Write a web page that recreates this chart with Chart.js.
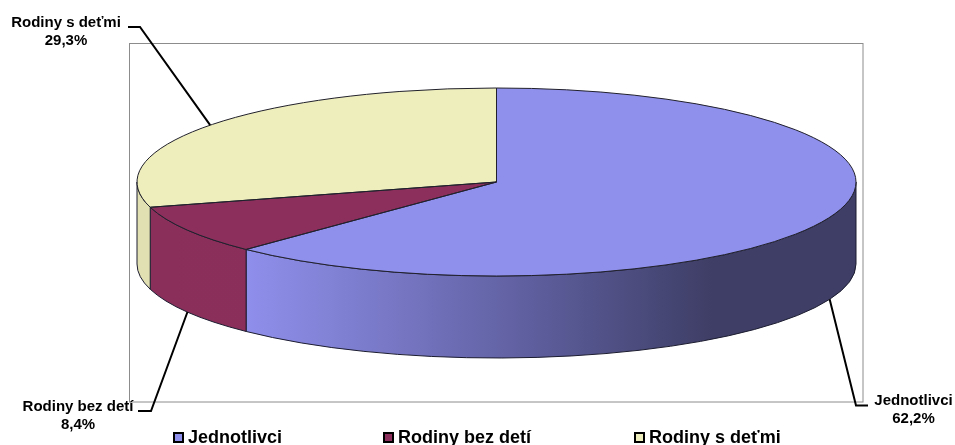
<!DOCTYPE html>
<html>
<head>
<meta charset="utf-8">
<style>
  html, body { margin: 0; padding: 0; background: #fff; overflow: hidden; }
  #wrap { position: relative; width: 955px; height: 445px; }
</style>
<script src="https://cdn.jsdelivr.net/npm/chart.js@4"></script>
</head>
<body>
<div id="wrap"><canvas id="pie"></canvas></div>
<script>
var CATEGORIES = ['Jednotlivci', 'Rodiny bez detí', 'Rodiny s deťmi'];
var SHARES = [62.2, 8.4, 29.3];
var SHARE_LABELS = ['62,2%', '8,4%', '29,3%'];
var COLORS = ['#8f8fec', '#8d2f5c', '#eeeebd'];

// flattened pie geometry
var RX = 359.5, RY = 94, DEPTH = 82;
var FONT = 'bold 15px "Liberation Sans", Arial, sans-serif';
var LEGEND_FONT = 'bold 18px "Liberation Sans", Arial, sans-serif';

// bend + end of every leader line, and where its caption sits
var LEADERS = [
  { knee: [856, 405.5], end: [868, 405.5], text: [913.5, 401] },
  { knee: [151, 411], end: [138, 411], text: [78, 406.5] },
  { knee: [140, 27], end: [128, 27], text: [66, 23] }
];
var LEGEND_X = [173, 383, 634], LEGEND_Y = 438;

function wallFill(ctx, i) {
  var g = ctx.createLinearGradient(137, 0, 856, 0);
  if (i === 0) {
    g.addColorStop(0.15, '#8f8fec');
    g.addColorStop(0.3, '#7e7ed0');
    g.addColorStop(0.55, '#5e5e9e');
    g.addColorStop(0.8, '#3e3e66');
    g.addColorStop(1, '#3e3e66');
  } else if (i === 1) {
    g.addColorStop(0, '#8a2e5a');
    g.addColorStop(1, '#8d2f5c');
  } else {
    g.addColorStop(0, '#e0e0b2');
    g.addColorStop(1, '#e0e0b2');
  }
  return g;
}

var flatPie = {
  id: 'flatPie',
  beforeDatasetsDraw: function(chart) {
    var ctx = chart.ctx;
    var arcs = chart.getDatasetMeta(0).data;
    ctx.save();
    ctx.lineWidth = 1;
    ctx.strokeStyle = '#1c1c30';
    // front wall first, top face goes over it
    arcs.forEach(function(a, i) {
      var from = Math.max(a.startAngle, 0), to = Math.min(a.endAngle, Math.PI);
      if (to <= from) return;
      ctx.beginPath();
      ctx.ellipse(a.x, a.y, RX, RY, 0, from, to);
      ctx.ellipse(a.x, a.y + DEPTH, RX, RY, 0, to, from, true);
      ctx.closePath();
      ctx.fillStyle = wallFill(ctx, i);
      ctx.fill();
      ctx.stroke();
    });
    ctx.restore();
    var c = arcs[0];
    ctx.save();
    ctx.translate(c.x, c.y);
    ctx.scale(RX / c.outerRadius, RY / c.outerRadius);
    ctx.translate(-c.x, -c.y);
  },
  afterDatasetsDraw: function(chart) {
    var ctx = chart.ctx;
    ctx.restore();
    var arcs = chart.getDatasetMeta(0).data;
    ctx.save();
    ctx.lineWidth = 1;
    ctx.strokeStyle = '#20202c';
    arcs.forEach(function(a) {
      ctx.beginPath();
      ctx.moveTo(a.x, a.y);
      ctx.ellipse(a.x, a.y, RX, RY, 0, a.startAngle, a.endAngle);
      ctx.closePath();
      ctx.stroke();
    });
    // leaders start at the mid angle of their slice, on the wall when in front
    ctx.strokeStyle = '#000';
    ctx.lineWidth = 2;
    arcs.forEach(function(a, i) {
      var mid = (a.startAngle + a.endAngle) / 2;
      var y = a.y + RY * Math.sin(mid) + (Math.sin(mid) > 0 ? DEPTH : 0);
      ctx.beginPath();
      ctx.moveTo(a.x + RX * Math.cos(mid), y);
      ctx.lineTo(LEADERS[i].knee[0], LEADERS[i].knee[1]);
      ctx.lineTo(LEADERS[i].end[0], LEADERS[i].end[1]);
      ctx.stroke();
    });
    ctx.fillStyle = '#000';
    ctx.font = FONT;
    ctx.textAlign = 'center';
    ctx.textBaseline = 'middle';
    CATEGORIES.forEach(function(name, i) {
      var p = LEADERS[i].text;
      ctx.fillText(name, p[0], p[1]);
      ctx.fillText(SHARE_LABELS[i], p[0], p[1] + 18);
    });
    // legend
    ctx.textAlign = 'left';
    ctx.font = LEGEND_FONT;
    ctx.lineWidth = 2;
    ctx.strokeStyle = '#000';
    CATEGORIES.forEach(function(name, i) {
      ctx.fillStyle = COLORS[i];
      ctx.fillRect(LEGEND_X[i] + 1, LEGEND_Y - 5, 9, 9);
      ctx.strokeRect(LEGEND_X[i] + 1, LEGEND_Y - 5, 9, 9);
      ctx.fillStyle = '#000';
      ctx.fillText(name, LEGEND_X[i] + 15, LEGEND_Y);
    });
    ctx.restore();
  }
};

// grey plot frame behind the pie
var frame = {
  id: 'frame',
  beforeDraw: function(chart) {
    var ctx = chart.ctx;
    ctx.save();
    ctx.strokeStyle = '#8c8c8c';
    ctx.lineWidth = 1;
    ctx.strokeRect(129.5, 43.5, 733.5, 358.5);
    ctx.restore();
  }
};

new Chart(document.getElementById('pie'), {
  type: 'pie',
  data: { labels: CATEGORIES, datasets: [{ data: SHARES, backgroundColor: COLORS, borderWidth: 0, clip: false }] },
  options: {
    responsive: true, maintainAspectRatio: false, animation: false,
    radius: 100,
    layout: { padding: { left: 38, right: 0, top: 0, bottom: 81 } },
    plugins: { legend: { display: false }, tooltip: { enabled: false } }
  },
  plugins: [frame, flatPie]
});
</script>
</body>
</html>
